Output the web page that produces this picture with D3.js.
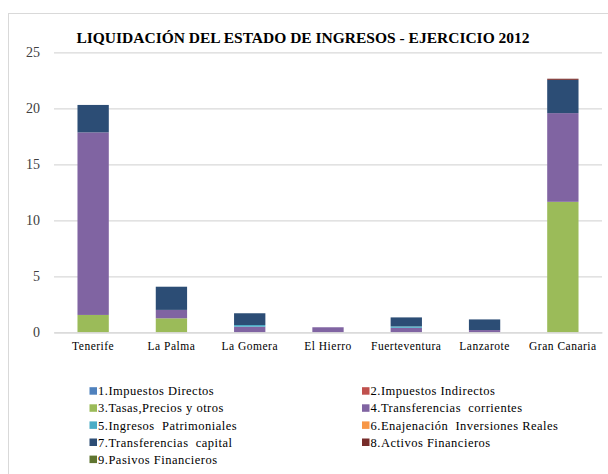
<!DOCTYPE html>
<html>
<head>
<meta charset="utf-8">
<script src="https://cdn.jsdelivr.net/npm/d3@7"></script>
<style>
  body { margin: 0; background: #fff; }
  svg { display: block; font-family: "Liberation Serif", "DejaVu Serif", serif; }
</style>
</head>
<body>
<svg></svg>
<script>
// chart data
var islands = ["Tenerife", "La Palma", "La Gomera", "El Hierro", "Fuerteventura", "Lanzarote", "Gran Canaria"];

var seriesNames = ["1.Impuestos Directos", "2.Impuestos Indirectos", "3.Tasas,Precios y otros",
                   "4.Transferencias  corrientes", "5.Ingresos  Patrimoniales", "6.Enajenación  Inversiones Reales",
                   "7.Transferencias  capital", "8.Activos Financieros", "9.Pasivos Financieros"];

// one array per series, values per island (millions)
var impuestosDirectos   = [0, 0, 0, 0, 0, 0, 0];
var impuestosIndirectos = [0, 0, 0, 0, 0, 0, 0];
var tasasPrecios        = [1.55, 1.25, 0, 0, 0, 0, 11.65];
var transfCorrientes    = [16.3, 0.75, 0.5, 0.45, 0.4, 0.2, 7.92];
var ingresosPatrim      = [0, 0, 0.15, 0, 0.13, 0, 0];
var enajenacion         = [0, 0, 0, 0, 0, 0, 0];
var transfCapital       = [2.45, 2.07, 1.05, 0, 0.8, 0.95, 2.97];
var activosFinancieros  = [0, 0, 0, 0, 0, 0, 0.1];
var pasivosFinancieros  = [0, 0, 0, 0, 0, 0, 0];

var yTicks = [0, 5, 10, 15, 20, 25];

var colors = ["#4F81BD", "#C0504D", "#9BBB59", "#8064A2", "#4BACC6", "#F79646", "#2C4D75", "#772C2A", "#5F7530"];

var allSeries = [impuestosDirectos, impuestosIndirectos, tasasPrecios, transfCorrientes, ingresosPatrim,
                 enajenacion, transfCapital, activosFinancieros, pasivosFinancieros];

var width = 608;
var height = 474;

var svg = d3.select("svg")
	.attr("width", width)
	.attr("height", height);

// outer frame
svg.append("rect")
	.attr("x", 8.5)
	.attr("y", 13.5)
	.attr("width", 640)
	.attr("height", 500)
	.attr("fill", "none")
	.attr("stroke", "#d9d9d9");

var rows = islands.map(function(name, i) {
	var r = { island: name };
	allSeries.forEach(function(s, k) { r["s" + k] = s[i]; });
	return r;
});
var keys = allSeries.map(function(s, k) { return "s" + k; });
var stacked = d3.stack().keys(keys)(rows);

var Xscale = d3.scaleBand()
	.domain(islands)
	.range([54, 602])
	.paddingInner(0.6)
	.paddingOuter(0.3);

var Yscale = d3.scaleLinear()
	.domain([0, 25])
	.range([332.3, 52.3]);

// gridlines
var yAxis = d3.axisLeft(Yscale)
	.tickValues(yTicks)
	.tickSize(-(602 - 54))
	.tickPadding(14)
	.tickSizeOuter(0);

var gy = svg.append("g")
	.attr("transform", "translate(54,0)")
	.call(yAxis);
gy.select(".domain").remove();
gy.selectAll(".tick line").attr("stroke", "#d9d9d9").attr("stroke-width", 1.3);
gy.selectAll(".tick text")
	.attr("font-family", "Liberation Serif")
	.attr("font-size", 14)
	.attr("fill", "#404040");

svg.selectAll("g.layer")
	.data(stacked)
	.enter()
	.append("g")
		.attr("class", "layer")
		.attr("fill", function(d, k) { return colors[k]; })
	.selectAll("rect")
	.data(function(d) { return d; })
	.enter()
		.append("rect")
		.attr("x", function(d) { return Xscale(d.data.island); })
		.attr("width", Xscale.bandwidth())
		.attr("y", function(d) { return Yscale(d[1]); })
		.attr("height", function(d) { return Yscale(d[0]) - Yscale(d[1]); });

// category axis
var xAxis = d3.axisBottom(Xscale).tickSize(0).tickPadding(10);
var gx = svg.append("g")
	.attr("transform", "translate(0,332.3)")
	.call(xAxis);
gx.select(".domain").attr("stroke", "#d9d9d9").attr("stroke-width", 1.3);
gx.selectAll(".tick text")
	.attr("font-family", "Liberation Serif")
	.attr("font-size", 11.5)
	.attr("letter-spacing", "0.5px")
	.attr("fill", "#000");

// title
svg.append("text")
	.attr("x", 303)
	.attr("y", 43)
	.attr("text-anchor", "middle")
	.attr("font-size", 15.5)
	.attr("font-weight", "bold")
	.attr("fill", "#000")
	.text("LIQUIDACIÓN DEL ESTADO DE INGRESOS - EJERCICIO 2012");

// legend, two columns
var legend = svg.append("g")
	.selectAll("g")
	.data(seriesNames)
	.enter()
	.append("g")
		.attr("transform", function(d, i) {
			var col = i % 2, row = Math.floor(i / 2);
			return "translate(" + (col === 0 ? 89.5 : 362) + "," + (391 + row * 17.1) + ")";
		});

legend.append("rect")
	.attr("x", 0)
	.attr("y", -3.8)
	.attr("width", 7.5)
	.attr("height", 7.5)
	.attr("fill", function(d, i) { return colors[i]; });

legend.append("text")
	.attr("x", 8.5)
	.attr("dy", "0.35em")
	.attr("font-size", 12.5)
	.attr("letter-spacing", "0.5px")
	.attr("fill", "#000")
	.style("white-space", "pre")
	.text(function(d) { return d; });
</script>
</body>
</html>
